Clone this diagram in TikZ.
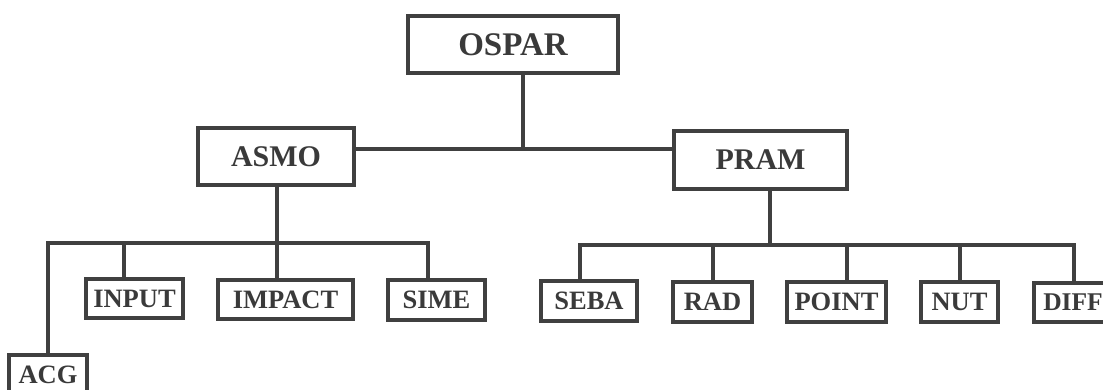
\documentclass[tikz,border=0pt]{standalone}
\usepackage{fontspec}
\setmainfont{Liberation Serif}
\definecolor{ink}{HTML}{404040}
\definecolor{txt}{HTML}{3A3A3A}
\begin{document}
\begin{tikzpicture}[x=1pt,y=-1pt,
  every node/.style={inner sep=0pt},
  topbox/.style={draw=ink, line width=3.2pt, text=txt, minimum height=#1,
    font=\fontsize{30}{36}\selectfont\bfseries},
  leafbox/.style={draw=ink, line width=3.2pt, text=txt, minimum height=40,
    font=\fontsize{26.5}{32}\selectfont\bfseries},
  link/.style={draw=ink, line width=3.2pt}]
\useasboundingbox (0,0) rectangle (1103,390);
\clip (0,0) rectangle (1103,390);
\fill[white] (0,0) rectangle (1103,390);

% top level
\node[topbox=57, minimum width=210, font=\fontsize{33}{38}\selectfont\bfseries] (ospar) at (513,44.5) {OSPAR};
\node[topbox=57, minimum width=156] (asmo) at (276,156.5) {ASMO};
\node[topbox=58, minimum width=173] (pram) at (760.5,160) {PRAM};

% leaves
\node[leafbox, minimum width=78] (acg) at (48,375) {ACG};
\node[leafbox, minimum width=97, minimum height=39] (input) at (134.5,298.5) {INPUT};
\node[leafbox, minimum width=135, minimum height=39] (impact) at (285.5,299.5) {IMPACT};
\node[leafbox, minimum width=97] (sime) at (436.5,300) {SIME};
\node[leafbox, minimum width=96] (seba) at (589,301) {SEBA};
\node[leafbox, minimum width=79] (rad) at (712.5,302) {RAD};
\node[leafbox, minimum width=99] (point) at (836.5,302) {POINT};
\node[leafbox, minimum width=77] (nut) at (959.5,302) {NUT};
\node[leafbox, minimum width=78, minimum height=39, font=\fontsize{25.5}{30}\selectfont\bfseries] (diff) at (1073,302.5) {DIFF};

% junction coordinates
\coordinate (jtop) at (523,149);
\coordinate (ja) at (277,243);
\coordinate (jacg) at (48,243);
\coordinate (jinput) at (124,243);
\coordinate (jsime) at (428,243);
\coordinate (jp) at (770,245);
\coordinate (jseba) at (580,245);
\coordinate (jrad) at (713,245);
\coordinate (jpoint) at (847,245);
\coordinate (jnut) at (960,245);
\coordinate (jdiff) at (1074,245);

% OSPAR level
\draw[link] (ospar.south -| jtop) -- (jtop);
\draw[link] (asmo.east |- jtop) -- (pram.west |- jtop);

% ASMO branch
\draw[link] (asmo.south -| ja) -- (ja);
\draw[link, line cap=rect] (jacg) -- (jsime);
\draw[link] (jacg) -- (acg.north -| jacg);
\draw[link] (jinput) -- (input.north -| jinput);
\draw[link] (ja) -- (impact.north -| ja);
\draw[link] (jsime) -- (sime.north -| jsime);

% PRAM branch
\draw[link] (pram.south -| jp) -- (jp);
\draw[link, line cap=rect] (jseba) -- (jdiff);
\draw[link] (jseba) -- (seba.north -| jseba);
\draw[link] (jrad) -- (rad.north -| jrad);
\draw[link] (jpoint) -- (point.north -| jpoint);
\draw[link] (jnut) -- (nut.north -| jnut);
\draw[link] (jdiff) -- (diff.north -| jdiff);
\end{tikzpicture}
\end{document}
